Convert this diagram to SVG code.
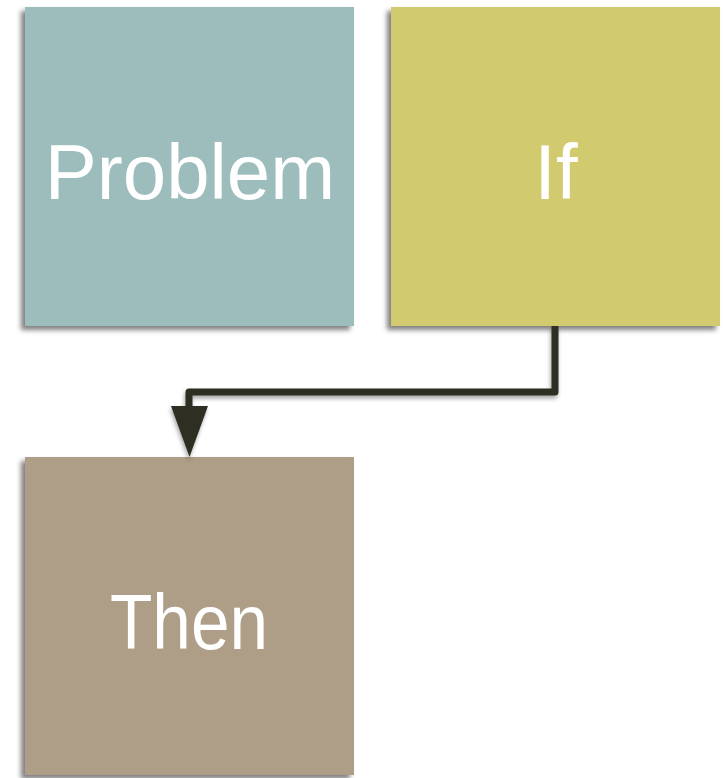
<svg xmlns="http://www.w3.org/2000/svg" width="726" height="778" viewBox="0 0 726 778">
  <style>
    .lbl { font-family: "Liberation Sans", Arial, sans-serif; font-size: 78px; fill: #ffffff; text-anchor: middle; }
    .conn { fill: none; stroke: #2f2d21; stroke-width: 7; stroke-linejoin: round; stroke-linecap: butt; }
  </style>
  <defs>
    <filter id="sh" x="-10%" y="-10%" width="120%" height="120%">
      <feDropShadow dx="-4" dy="4" stdDeviation="2.5" flood-color="#000" flood-opacity="0.5"/>
    </filter>
    <filter id="shc" x="-10%" y="-10%" width="120%" height="130%">
      <feDropShadow dx="-1" dy="3" stdDeviation="2" flood-color="#000" flood-opacity="0.35"/>
    </filter>
  </defs>
  <rect width="726" height="778" fill="#ffffff"/>
  <g id="problem">
    <rect x="25" y="7" width="329" height="319" fill="#9dbdbc" filter="url(#sh)"/>
    <text class="lbl" x="190" y="199">Problem</text>
  </g>
  <g id="if">
    <rect x="391" y="7" width="329" height="319" fill="#d2ca6e" filter="url(#sh)"/>
    <text class="lbl" x="556" y="199">If</text>
  </g>
  <g id="then">
    <rect x="25" y="457" width="329" height="318" fill="#ae9e88" filter="url(#sh)"/>
    <text class="lbl" x="189" y="649" textLength="158" lengthAdjust="spacingAndGlyphs">Then</text>
  </g>
  <g id="connectors" filter="url(#shc)">
    <path class="conn" d="M555 326 V392 H189 V408"/>
    <polygon points="171,406 208,406 189.5,457" fill="#2f2d21"/>
  </g>
</svg>
